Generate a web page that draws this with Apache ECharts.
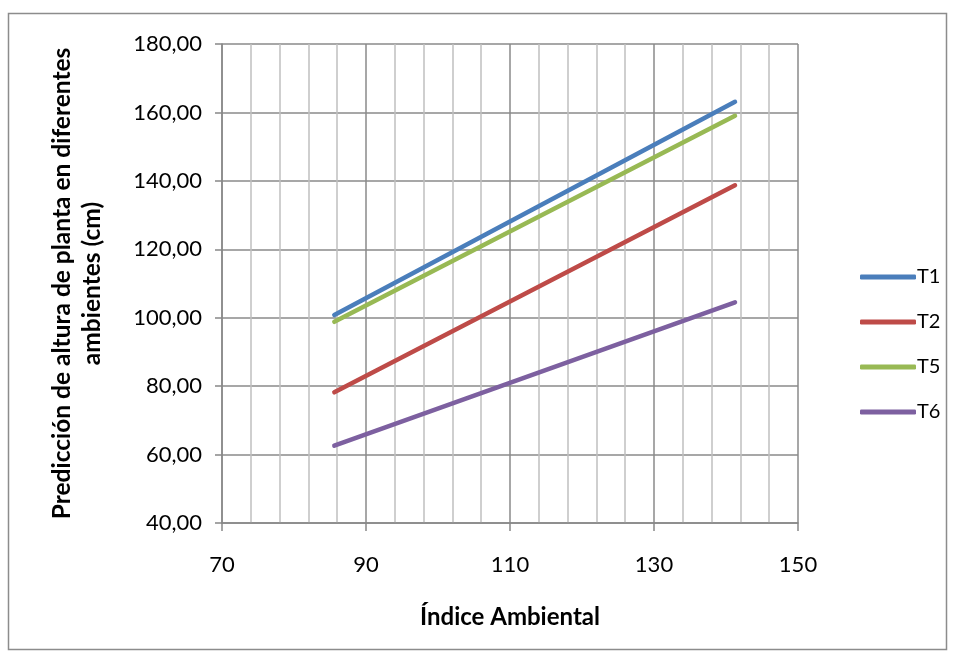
<!DOCTYPE html>
<html><head><meta charset="utf-8">
<script src="https://cdn.jsdelivr.net/npm/echarts@6/dist/echarts.min.js"></script>
<style>html,body{margin:0;padding:0;background:#fff}#c{width:955px;height:659px}</style>
</head><body><div id="c"></div>
<script>
const seriesNames = ['T1','T2','T5','T6'];
const xValues = [85.6, 141.25];
const T1 = [100.8, 163.1];
const T2 = [78.2, 138.7];
const T5 = [98.8, 159.0];
const T6 = [62.6, 104.5];
const colors = ['#4a7ebb','#be4b48','#98b954','#7d60a0'];
const data = [T1,T2,T5,T6];
const font = 'Lato, "Open Sans", sans-serif';
const chart = echarts.init(document.getElementById('c'));
chart.setOption({
  animation:false,
  textStyle:{fontFamily:font},
  graphic:[{type:'rect',shape:{x:8.5,y:13.5,width:938,height:636},style:{fill:null,stroke:'#8c8c8c',lineWidth:1.5},silent:true}],
  grid:{left:222,top:44,width:576,height:479},
  legend:{orient:'vertical',left:855,top:262,itemGap:25,itemWidth:56,itemHeight:5,icon:'roundRect',
    textStyle:{fontSize:20,color:'#000',fontFamily:font,padding:[0,0,0,-4]},data:seriesNames},
  xAxis:{type:'value',min:70,max:150,interval:20,
    name:'Índice Ambiental',nameLocation:'middle',nameGap:82,
    nameTextStyle:{fontSize:24,fontWeight:'bold',color:'#000',fontFamily:font},
    axisLine:{show:true,lineStyle:{color:'#888',width:1.5}},
    axisTick:{show:true,length:8,lineStyle:{color:'#888',width:1.5}},
    axisLabel:{fontSize:22,color:'#000',margin:31,fontFamily:font},
    splitLine:{show:true,lineStyle:{color:'#8a8a8a',width:1.5}},
    minorTick:{show:false,splitNumber:5},
    minorSplitLine:{show:true,lineStyle:{color:'#c0c0c0',width:1.5}}},
  yAxis:{type:'value',min:40,max:180,interval:20,
    name:'Predicción de altura de planta en diferentes\nambientes (cm)',nameLocation:'middle',nameGap:115,
    nameTextStyle:{fontSize:24.5,fontWeight:'bold',color:'#000',fontFamily:font,lineHeight:30},
    axisLine:{show:true,lineStyle:{color:'#888',width:1.5}},
    axisTick:{show:true,length:7,lineStyle:{color:'#888',width:1.5}},
    axisLabel:{fontSize:22,color:'#000',margin:20,fontFamily:font,formatter:v=>v.toFixed(2).replace('.',',')},
    splitLine:{show:true,lineStyle:{color:'#8a8a8a',width:1.5}}},
  series:seriesNames.map((n,i)=>({name:n,type:'line',showSymbol:false,symbol:'none',
    data:xValues.map((x,j)=>[x,data[i][j]]),
    lineStyle:{color:colors[i],width:4.5,cap:'round'},itemStyle:{color:colors[i]}}))
});
</script></body></html>
